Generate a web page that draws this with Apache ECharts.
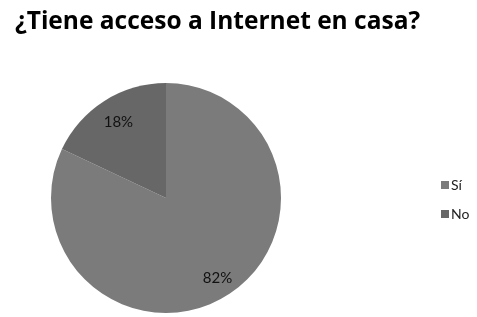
<!DOCTYPE html>
<html>
<head>
<meta charset="utf-8">
<script src="https://cdn.jsdelivr.net/npm/echarts@6/dist/echarts.min.js"></script>
<style>
html,body{margin:0;padding:0;background:#fff;}
#chart{width:477px;height:317px;}
</style>
</head>
<body>
<div id="chart"></div>
<script>
// datos de la encuesta
var categories = ['Sí', 'No'];
var values = [82, 18];
var colors = ['#7b7b7b', '#676767'];

var pieData = categories.map(function(name, i){
	return {name: name, value: values[i], itemStyle: {color: colors[i]}};
});

var chart = echarts.init(document.getElementById('chart'));
chart.setOption({
	backgroundColor: '#fff',
	animation: false,
	title: {
		text: '¿Tiene acceso a Internet en casa?',
		left: 10,
		top: 5,
		textStyle: {fontFamily: 'Open Sans', fontWeight: 'bold', fontSize: 24.5, color: '#000'}
	},
	legend: {
		orient: 'vertical',
		left: 436,
		top: 173,
		itemWidth: 8,
		itemHeight: 8,
		itemGap: 15,
		icon: 'rect',
		textStyle: {fontFamily: 'Lato', fontSize: 14, color: '#222', padding: [0, 0, 0, -3]},
		data: categories
	},
	series: [{
		type: 'pie',
		center: [166, 198],
		radius: [0, 115],
		startAngle: 90,
		clockwise: true,
		label: {show: false},
		labelLine: {show: false},
		emphasis: {disabled: true},
		data: pieData
	}, {
		// capa transparente solo para colocar las etiquetas
		type: 'pie',
		center: [168, 200],
		radius: [64, 115],
		startAngle: 90,
		clockwise: true,
		silent: true,
		itemStyle: {color: 'rgba(0,0,0,0)'},
		label: {
			show: true,
			position: 'inside',
			formatter: '{c}%',
			fontFamily: 'Lato',
			fontSize: 15,
			color: '#111'
		},
		labelLine: {show: false},
		data: categories.map(function(name, i){ return {name: name, value: values[i]}; })
	}]
});
</script>
</body>
</html>
